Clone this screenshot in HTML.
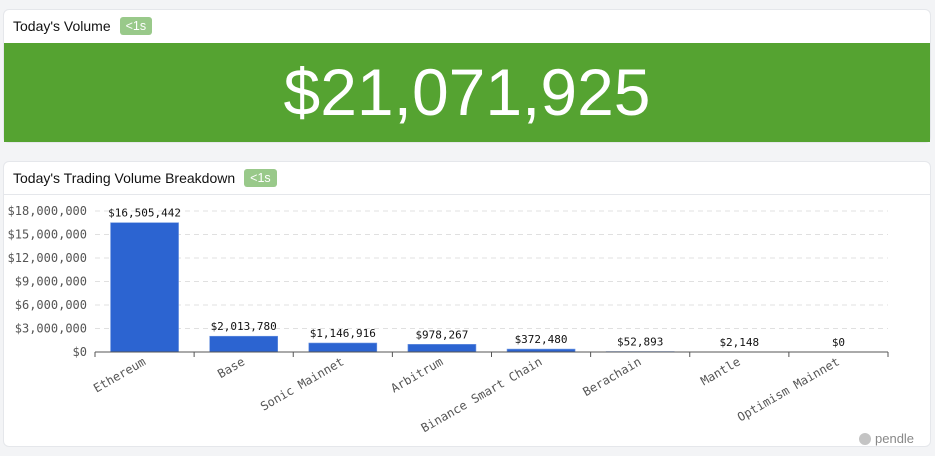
<!DOCTYPE html>
<html><head><meta charset="utf-8"><style>
body{margin:0;width:935px;height:456px;background:#f3f4f6;font-family:"Liberation Sans",sans-serif;position:relative;overflow:hidden}
.card{position:absolute;background:#fff;border:1px solid #e5e7eb;border-radius:6px;box-sizing:border-box}
.hdr{position:absolute;left:9px;font-size:14px;color:#111;display:flex;align-items:center}
.badge{background:#99c98a;color:#fff;font-size:12.5px;border-radius:3px;padding:2px 6px;margin-left:9px}
</style></head><body>
<div class="card" style="left:3px;top:9px;width:928px;height:134px">
 <div class="hdr" style="top:7px">Today's Volume<span class="badge">&lt;1s</span></div>
 <div style="position:absolute;left:0;top:33px;width:926px;height:99px;background:#55a331;color:#fff;font-size:66px;text-align:center;line-height:99px">$21,071,925</div>
</div>
<div class="card" style="left:3px;top:161px;width:928px;height:286px">
 <div class="hdr" style="top:7px">Today's Trading Volume Breakdown<span class="badge">&lt;1s</span></div>
 <div style="position:absolute;left:0;top:32px;width:926px;height:1px;background:#e5e7eb"></div>
 <div style="position:absolute;left:855px;top:269px;font-size:13px;color:#888;display:flex;align-items:center"><span style="display:inline-block;width:12px;height:12px;border-radius:50%;background:#c4c4c4;margin-right:4px"></span>pendle</div>
</div>
<svg id="chart" width="935" height="456" style="position:absolute;left:0;top:0" font-family="'DejaVu Sans Mono',monospace" font-size="12"></svg>
<script>
const categories=["Ethereum","Base","Sonic Mainnet","Arbitrum","Binance Smart Chain","Berachain","Mantle","Optimism Mainnet"];
const values=[16505442,2013780,1146916,978267,372480,52893,2148,0];
const valueLabels=["$16,505,442","$2,013,780","$1,146,916","$978,267","$372,480","$52,893","$2,148","$0"];
const ticks=[0,3000000,6000000,9000000,12000000,15000000,18000000];
const tickLabels=["$0","$3,000,000","$6,000,000","$9,000,000","$12,000,000","$15,000,000","$18,000,000"];
const svg=document.getElementById('chart');const NS="http://www.w3.org/2000/svg";
const x0=95,x1=888,y0=352,y1=211,max=18000000;
const bw=(x1-x0)/categories.length;
const y=v=>y0-(v/max)*(y0-y1);
const xc=i=>x0+bw*(i+0.5);
function el(t,a,txt){const e=document.createElementNS(NS,t);for(const k in a)e.setAttribute(k,a[k]);if(txt!=null)e.textContent=txt;svg.appendChild(e);return e;}
ticks.forEach((t,i)=>{
 if(t>0){const g=el('line',{x1:x0,x2:x1,y1:y(t),y2:y(t),stroke:'#e0e0e0','stroke-dasharray':'5,4'});
 
 }
 const l=el('text',{x:87,y:y(t)+4,'text-anchor':'end',fill:'#555'},tickLabels[i]);
 
 
});
values.forEach((v,i)=>{
 const b=el('rect',{x:xc(i)-34,y:y(v),width:68,height:y0-y(v),fill:'#2c64d1',stroke:'#6d95e0','stroke-width':0.6});
 
 
 const t=el('text',{x:xc(i),y:y(v)-6,'text-anchor':'middle',fill:'#111','font-size':11},valueLabels[i]);
 
 
 const c=el('text',{x:xc(i)+2,y:y0+12,'text-anchor':'end',fill:'#555',transform:`rotate(-30 ${xc(i)+2} ${y0+12})`},categories[i]);
 
 
});
for(let i=0;i<=categories.length;i++){el('line',{x1:x0+bw*i,x2:x0+bw*i,y1:y0,y2:y0+5,stroke:'#555'});}
const ax=el('line',{x1:x0,x2:x1,y1:y0,y2:y0,stroke:'#555'});


</script>
</body></html>
